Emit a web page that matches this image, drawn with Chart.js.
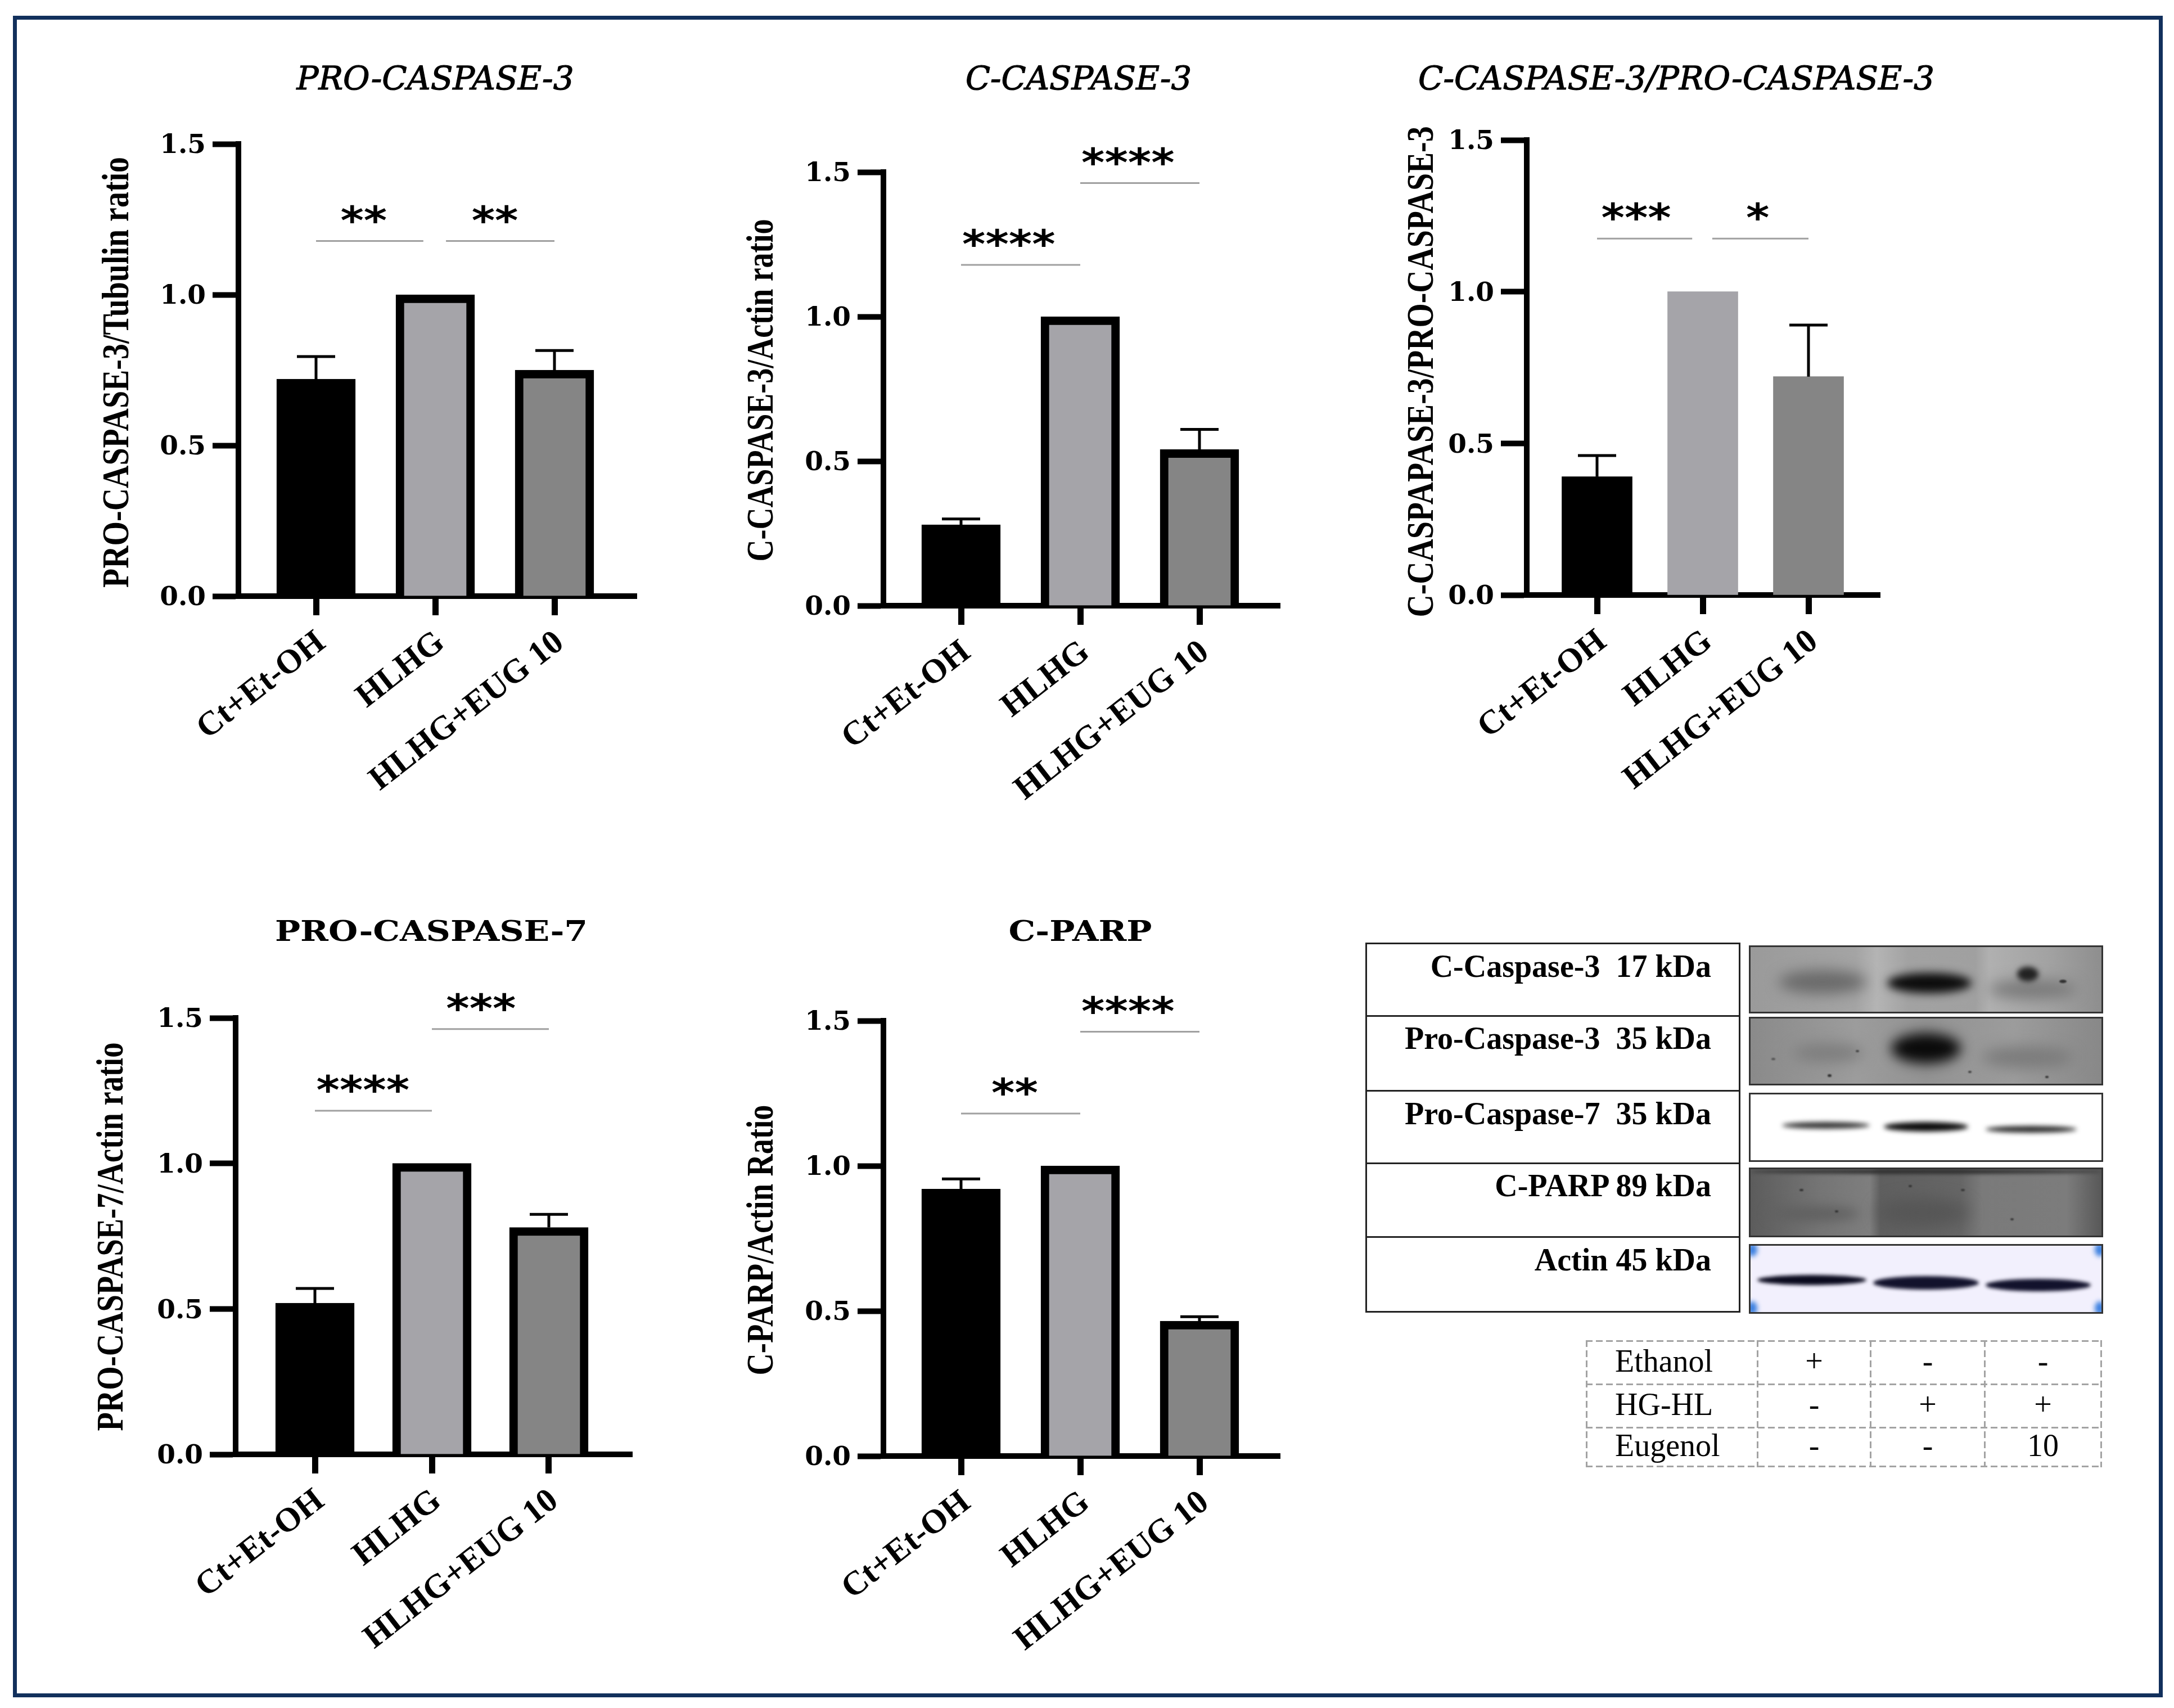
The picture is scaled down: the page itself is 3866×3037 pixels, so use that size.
<!DOCTYPE html>
<html>
<head>
<meta charset="utf-8">
<title>Caspase panels</title>
<script src="https://cdn.jsdelivr.net/npm/chart.js@4"></script>
<style>
  html, body { margin: 0; padding: 0; background: #fff; }
  #page { position: relative; width: 3866px; height: 3037px; overflow: hidden; background: #fff; }
  #frame { position: absolute; left: 23px; top: 28px; width: 3809px; height: 2976px; border: 7px solid #12305c; }
  canvas { position: absolute; }
  .box { position: absolute; box-sizing: border-box; border: 3px solid #222; }
  .label { position: absolute; left: 2428px; width: 615px; text-align: right; white-space: pre;
           font: bold 56px "Liberation Serif"; color: #000; line-height: 60px; }
  .blot { position: absolute; left: 3110px; width: 630px; box-sizing: border-box; border: 3px solid #333; overflow: hidden; }
  .band { position: absolute; border-radius: 50%; }
  .cell { position: absolute; box-sizing: border-box; font: 56px "Liberation Serif"; color: #000; text-align: center; }
  .dash { position: absolute; }
</style>
</head>
<body>
<div id="page">
  <div id="frame"></div>
</div>
<script>
// --- Dane ---
const categories = ['Ct+Et-OH', 'HLHG', 'HLHG+EUG 10'];
const yTicks = [0, 0.5, 1, 1.5];

const proCasp3Values = [0.72, 1.0, 0.75];
const proCasp3Errors = [0.075, 0, 0.065];
const proCasp3Stars = ['**', '**'];
const proCasp3Sig = [[1, 1.9, 1.178, 1.4], [2.09, 3, 1.178, 2.5]];

const cCasp3Values = [0.28, 1.0, 0.54];
const cCasp3Errors = [0.02, 0, 0.07];
const cCasp3Stars = ['****', '****'];
const cCasp3Sig = [[1, 2, 1.179, 1.4], [2, 3, 1.462, 2.4]];

const ratioValues = [0.39, 1.0, 0.72];
const ratioErrors = [0.07, 0, 0.17];
const ratioStars = ['***', '*'];
const ratioSig = [[1, 1.9, 1.175, 1.37], [2.09, 3, 1.175, 2.52]];

const proCasp7Values = [0.52, 1.0, 0.78];
const proCasp7Errors = [0.05, 0, 0.045];
const proCasp7Stars = ['****', '***'];
const proCasp7Sig = [[1, 2, 1.181, 1.41], [2, 3, 1.462, 2.42]];

const cParpValues = [0.92, 1.0, 0.465];
const cParpErrors = [0.035, 0, 0.015];
const cParpStars = ['**', '****'];
const cParpSig = [[1, 2, 1.18, 1.45], [2, 3, 1.462, 2.4]];

const blotLabels = ['C-Caspase-3  17 kDa', 'Pro-Caspase-3  35 kDa', 'Pro-Caspase-7  35 kDa', 'C-PARP 89 kDa', 'Actin 45 kDa'];
const treatmentRows = [
  ['Ethanol', '+', '-', '-'],
  ['HG-HL', '-', '+', '+'],
  ['Eugenol', '-', '-', '10']
];

// --- Panele ---
const panels = [
  { title: 'PRO-CASPASE-3', italic: true, titleX: 774, titleY: 144, titleW: 500,
    yTitle: 'PRO-CASPASE-3/Tubulin ratio', yTitleX: 210, yTitleY: 662, yTitleW: 766,
    values: proCasp3Values, errors: proCasp3Errors, stars: proCasp3Stars, sig: proCasp3Sig,
    axisX: 424, top: 256, bottom: 1060, right: 1132, tick1: 562, tick3: 986, border: 15, barW: 140 },
  { title: 'C-CASPASE-3', italic: true, titleX: 1918, titleY: 144, titleW: 402,
    yTitle: 'C-CASPASE-3/Actin ratio', yTitleX: 1356, yTitleY: 694, yTitleW: 609,
    values: cCasp3Values, errors: cCasp3Errors, stars: cCasp3Stars, sig: cCasp3Sig,
    axisX: 1571, top: 306, bottom: 1077, right: 2276, tick1: 1709, tick3: 2133, border: 15, barW: 140 },
  { title: 'C-CASPASE-3/PRO-CASPASE-3', italic: true, titleX: 2981, titleY: 144, titleW: 922,
    yTitle: 'C-CASPAPASE-3/PRO-CASPASE-3', yTitleX: 2530, yTitleY: 661, yTitleW: 873,
    values: ratioValues, errors: ratioErrors, stars: ratioStars, sig: ratioSig,
    axisX: 2715, top: 249, bottom: 1058, right: 3343, tick1: 2840, tick3: 3216, border: 0, barW: 125 },
  { title: 'PRO-CASPASE-7', italic: false, titleX: 767, titleY: 1660, titleW: 557,
    yTitle: 'PRO-CASPASE-7/Actin ratio', yTitleX: 200, yTitleY: 2199, yTitleW: 691,
    values: proCasp7Values, errors: proCasp7Errors, stars: proCasp7Stars, sig: proCasp7Sig,
    axisX: 419, top: 1810, bottom: 2586, right: 1124, tick1: 560, tick3: 976, border: 15, barW: 140 },
  { title: 'C-PARP', italic: false, titleX: 1921, titleY: 1660, titleW: 261,
    yTitle: 'C-PARP/Actin Ratio', yTitleX: 1356, yTitleY: 2205, yTitleW: 481,
    values: cParpValues, errors: cParpErrors, stars: cParpStars, sig: cParpSig,
    axisX: 1571, top: 1815, bottom: 2589, right: 2276, tick1: 1709, tick3: 2133, border: 15, barW: 140 }
];

const barColors = ['#000000', '#a5a4a9', '#858585'];
const sigColor = '#a0a0a0';

// tytuł, opis osi Y, słupki błędu i gwiazdki
const extrasPlugin = {
  id: 'extras',
  afterDatasetsDraw(chart, args, opts) {
    const { ctx, scales: { x, y } } = chart;
    const p = opts.panel;
    const box = chart.canvas.getBoundingClientRect();

    ctx.save();
    ctx.strokeStyle = '#000';
    ctx.lineWidth = 5;
    p.errors.forEach((err, i) => {
      if (!err) return;
      const px = x.getPixelForValue(i + 1);
      const y0 = y.getPixelForValue(p.values[i]);
      const y1 = y.getPixelForValue(p.values[i] + err);
      ctx.beginPath();
      ctx.moveTo(px, y0);
      ctx.lineTo(px, y1);
      ctx.moveTo(px - 34, y1);
      ctx.lineTo(px + 34, y1);
      ctx.stroke();
    });

    p.sig.forEach((s, i) => {
      const py = y.getPixelForValue(s[2]);
      ctx.strokeStyle = sigColor;
      ctx.lineWidth = 3;
      ctx.beginPath();
      ctx.moveTo(x.getPixelForValue(s[0]), py);
      ctx.lineTo(x.getPixelForValue(s[1]), py);
      ctx.stroke();
      ctx.save();
      ctx.translate(x.getPixelForValue(s[3]), py - 13);
      ctx.scale(1.13, 1);
      ctx.fillStyle = '#000';
      ctx.font = 'bold 70px "DejaVu Sans"';
      ctx.textAlign = 'center';
      ctx.textBaseline = 'alphabetic';
      ctx.fillText(p.stars[i], 0, 0);
      ctx.restore();
    });

    ctx.fillStyle = '#000';
    ctx.strokeStyle = '#000';
    ctx.lineWidth = 1.2;
    ctx.textAlign = 'center';
    ctx.textBaseline = 'middle';
    ctx.font = p.italic ? 'italic 58px "DejaVu Serif"' : 'bold 50px "DejaVu Serif"';
    ctx.save();
    ctx.translate(p.titleX - box.left, p.titleY - box.top);
    if (!p.italic) ctx.scale(1.2, 1);
    ctx.fillText(p.title, 0, 0, p.italic ? p.titleW : p.titleW / 1.2);
    if (p.italic) ctx.strokeText(p.title, 0, 0, p.titleW);
    ctx.restore();

    ctx.translate(p.yTitleX - box.left, p.yTitleY - box.top);
    ctx.rotate(-Math.PI / 2);
    ctx.font = 'bold 68px "Liberation Serif"';
    ctx.fillText(p.yTitle, 0, 0, p.yTitleW);
    ctx.restore();
  }
};

function addPanel(p) {
  const canvas = document.createElement('canvas');
  const left = p.axisX - 340;
  const top = p.top - 200;
  const rightPad = 320;
  const width = p.right - left + rightPad;
  const xHeight = 420;
  canvas.width = width;
  canvas.height = p.bottom - top + xHeight;
  canvas.style.left = left + 'px';
  canvas.style.top = top + 'px';
  document.getElementById('page').appendChild(canvas);

  const step = (p.tick3 - p.tick1) / 2;
  new Chart(canvas, {
    type: 'bar',
    data: {
      datasets: [{
        data: p.values.map((v, i) => ({ x: i + 1, y: v })),
        backgroundColor: barColors,
        borderColor: '#000',
        borderWidth: p.border,
        borderSkipped: 'bottom',
        barThickness: p.barW
      }]
    },
    options: {
      responsive: false,
      animation: false,
      devicePixelRatio: 1,
      layout: { autoPadding: false, padding: { top: 200, right: rightPad, left: 0, bottom: 0 } },
      plugins: { legend: { display: false }, tooltip: { enabled: false }, extras: { panel: p } },
      scales: {
        x: {
          type: 'linear',
          offset: false,
          z: 1,
          min: 1 - (p.tick1 - p.axisX) / step,
          max: 3 + (p.right - p.tick3) / step,
          afterBuildTicks: axis => { axis.ticks = categories.map((c, i) => ({ value: i + 1 })); },
          afterFit: axis => { axis.height = xHeight; },
          grid: { offset: false, drawOnChartArea: false, tickLength: 34, tickWidth: 11, tickColor: '#000' },
          border: { width: 10, color: '#000' },
          ticks: {
            autoSkip: false, minRotation: 38, maxRotation: 38, padding: 14, labelOffset: 10, color: '#000',
            font: { family: 'Liberation Serif', weight: 'bold', size: 60 },
            callback: v => categories[v - 1]
          }
        },
        y: {
          min: 0,
          max: 1.5,
          z: 1,
          afterBuildTicks: axis => { axis.ticks = yTicks.map(v => ({ value: v })); },
          afterFit: axis => { axis.width = 340; },
          grid: { drawOnChartArea: false, tickLength: 46, tickWidth: 10, tickColor: '#000' },
          border: { width: 10, color: '#000' },
          ticks: {
            padding: 12, labelOffset: 4, color: '#000',
            font: { family: 'DejaVu Serif', weight: 'bold', size: 47 },
            callback: v => v.toFixed(1)
          }
        }
      }
    },
    plugins: [extrasPlugin]
  });
}

panels.forEach(addPanel);

// --- Blot ---
const labelRows = [[1676, 129, 1718], [1805, 133, 1846], [1938, 129, 1980], [2067, 131, 2108], [2198, 133, 2240]];
const blotRows = [[1681, 121], [1808, 122], [1943, 123], [2076, 124], [2212, 124]];
const blotBackgrounds = [
  'linear-gradient(90deg,#9a9a9a 0,#a4a4a4 30%,#b4b4b4 36%,#a2a2a2 45%,#a0a0a0 64%,#b0b0b0 68%,#a2a2a2 85%,#8e8e8e 100%)',
  'linear-gradient(90deg,#8a8a8a 0,#9c9c9c 30%,#929292 50%,#9c9c9c 75%,#888888 100%)',
  '#ffffff',
  'linear-gradient(90deg,#5c5c5c 0,#757575 20%,#7e7e7e 34%,#5f5f5f 37%,#666666 60%,#7a7a7a 66%,#7c7c7c 90%,#585858 100%)',
  '#f2f0fd'
];
// left%, width%, top%, height px, colour, blur px
const blotBands = [
  [[8, 25, 36, 42, '#6a6a6a', 12], [39, 24, 40, 36, '#0c0c0c', 8], [68, 25, 50, 34, '#7a7a7a', 12], [76, 6, 30, 26, '#222222', 5], [88, 2, 50, 6, '#333333', 1]],
  [[12, 20, 38, 34, '#7e7e7e', 12], [40, 20, 22, 54, '#0a0a0a', 11], [66, 26, 42, 40, '#7c7c7c', 12],
   [22, 1, 85, 5, '#333333', 1], [30, 1, 48, 4, '#444444', 1], [62, 1, 80, 4, '#444444', 1], [84, 1, 88, 4, '#333333', 1], [6, 1, 60, 4, '#555555', 1]],
  [[9, 25, 42, 12, '#333333', 4], [38, 24, 42, 17, '#0c0c0c', 4], [67, 26, 48, 12, '#2a2a2a', 4]],
  [[0, 100, 0, 8, '#2c2c2c', 3], [36, 26, 44, 50, '#565656', 14], [5, 26, 56, 26, '#606060', 10],
   [14, 1, 30, 4, '#333333', 1], [24, 1, 62, 4, '#333333', 1], [45, 1, 24, 4, '#333333', 1], [74, 1, 74, 4, '#3a3a3a', 1], [60, 1, 30, 4, '#3a3a3a', 1]],
  [[2, 31, 44, 18, '#0a0a1e', 3], [35, 30, 46, 24, '#12122c', 3], [67, 30, 50, 22, '#12122c', 3],
   [-1, 3, -4, 24, '#3a7fe0', 4], [-1, 3, 84, 24, '#3a7fe0', 4], [98, 3, -4, 24, '#3a7fe0', 4], [98, 3, 84, 24, '#3a7fe0', 4]]
];

const page = document.getElementById('page');
labelRows.forEach((r, i) => {
  const box = document.createElement('div');
  box.className = 'box';
  box.style.cssText = `left:2428px;top:${r[0]}px;width:667px;height:${r[1] + 3}px`;
  page.appendChild(box);
  const label = document.createElement('div');
  label.className = 'label';
  label.style.top = (r[2] - 30) + 'px';
  label.textContent = blotLabels[i];
  page.appendChild(label);
});

blotRows.forEach((r, i) => {
  const blot = document.createElement('div');
  blot.className = 'blot';
  blot.style.top = r[0] + 'px';
  blot.style.height = r[1] + 'px';
  blot.style.background = blotBackgrounds[i];
  blotBands[i].forEach(b => {
    const band = document.createElement('div');
    band.className = 'band';
    band.style.cssText = `left:${b[0]}%;width:${b[1]}%;top:${b[2]}%;height:${b[3]}px;background:${b[4]};filter:blur(${b[5]}px)`;
    blot.appendChild(band);
  });
  page.appendChild(blot);
});

// --- Tabela ---
const colEdges = [2820, 3124, 3325, 3528, 3735];
const rowEdges = [2383, 2460, 2537, 2606];
const dashColor = '#a3a3a3';
rowEdges.forEach(y => {
  const line = document.createElement('div');
  line.className = 'dash';
  line.style.cssText = `left:${colEdges[0]}px;top:${y}px;width:${colEdges[4] - colEdges[0] + 3}px;height:3px;` +
    `background:repeating-linear-gradient(90deg,${dashColor} 0 12px,transparent 12px 18px)`;
  page.appendChild(line);
});
colEdges.forEach(x => {
  const line = document.createElement('div');
  line.className = 'dash';
  line.style.cssText = `left:${x}px;top:${rowEdges[0]}px;width:3px;height:${rowEdges[3] - rowEdges[0] + 3}px;` +
    `background:repeating-linear-gradient(180deg,${dashColor} 0 12px,transparent 12px 18px)`;
  page.appendChild(line);
});
treatmentRows.forEach((row, r) => {
  row.forEach((text, c) => {
    const cell = document.createElement('div');
    cell.className = 'cell';
    const h = rowEdges[r + 1] - rowEdges[r] + 3;
    cell.style.cssText = `left:${colEdges[c]}px;top:${rowEdges[r]}px;width:${colEdges[c + 1] - colEdges[c] + 3}px;height:${h}px;line-height:${h - 6}px`;
    if (c === 0) { cell.style.textAlign = 'left'; cell.style.paddingLeft = '52px'; }
    cell.textContent = text;
    page.appendChild(cell);
  });
});
</script>
</body>
</html>
